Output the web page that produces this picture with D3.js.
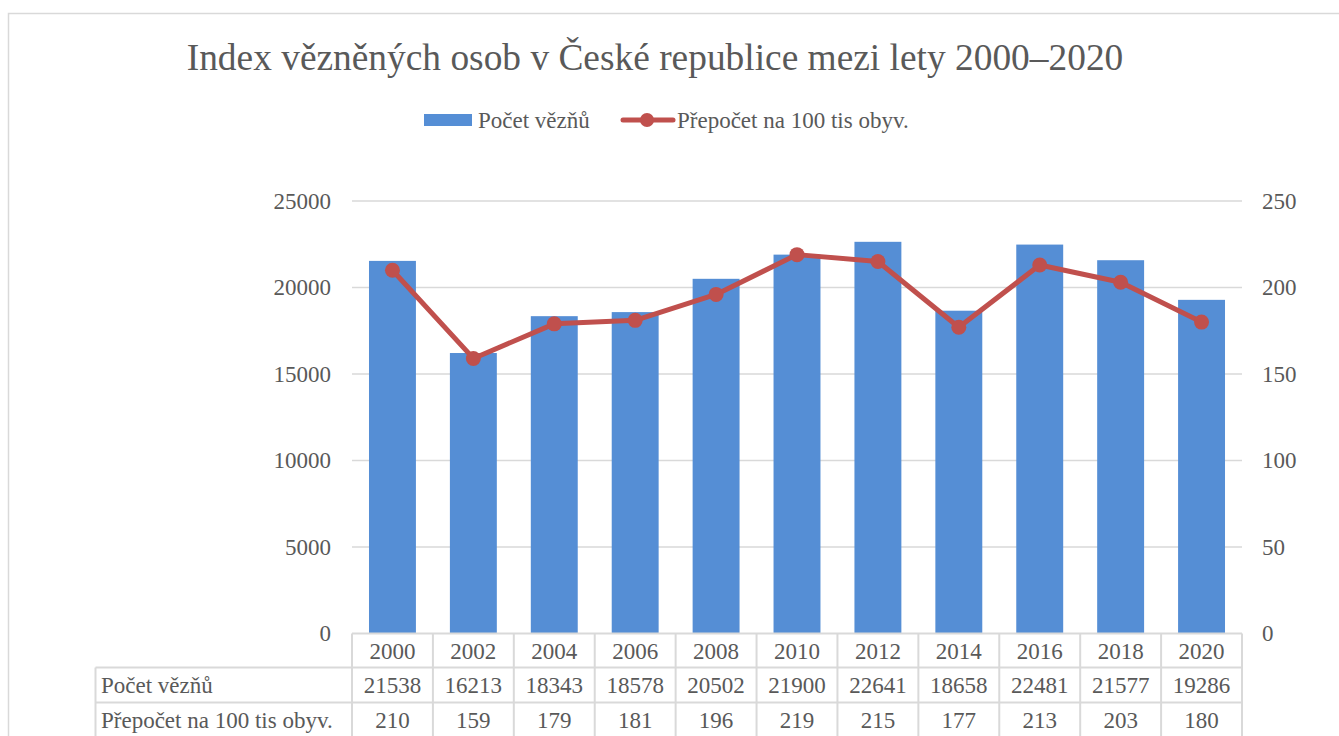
<!DOCTYPE html>
<html><head><meta charset="utf-8">
<script src="https://cdn.jsdelivr.net/npm/d3@7/dist/d3.min.js"></script>
<style>html,body{margin:0;padding:0;background:#fff;overflow:hidden}</style>
</head><body>
<script>
const years = ["2000","2002","2004","2006","2008","2010","2012","2014","2016","2018","2020"];
const prisoners = [21538,16213,18343,18578,20502,21900,22641,18658,22481,21577,19286];
const per100k = [210,159,179,181,196,219,215,177,213,203,180];
const leftTicks = [0,5000,10000,15000,20000,25000];
const rightTicks = [0,50,100,150,200,250];
const seriesNames = ["Počet vězňů","Přepočet na 100 tis obyv."];
const title = "Index vězněných osob v České republice mezi lety 2000–2020";

const W=1339,H=736;
const font="'Liberation Serif','Times New Roman',serif";
const txt="#595959", grid="#d9d9d9", blue="#558ED5", red="#C0504D";
const fs=23;
const svg=d3.select("body").append("svg").attr("width",W).attr("height",H);

svg.append("rect").attr("x",8.5).attr("y",13.5).attr("width",W+20).attr("height",H+20)
  .attr("fill","none").attr("stroke","#d9d9d9").attr("stroke-width",1.5);

const L=352,R=1242,T=201,B=633.5;
const x=d3.scaleBand().domain(years).range([L,R]).paddingInner(0.42).paddingOuter(0.21);
const xc=d3.scaleBand().domain(years).range([L,R]);
const y=d3.scaleLinear().domain([0,25000]).range([B,T]);
const y2=d3.scaleLinear().domain([0,250]).range([B,T]);

// title
svg.append("text").attr("x",655).attr("y",70).attr("text-anchor","middle")
  .attr("font-family",font).attr("font-size",37.4).attr("fill",txt).text(title);

// gridlines
svg.append("g").selectAll("line").data(leftTicks.slice(1)).join("line")
  .attr("x1",L).attr("x2",R).attr("y1",d=>y(d)).attr("y2",d=>y(d))
  .attr("stroke",grid).attr("stroke-width",1.3);

// axes
const la=svg.append("g").attr("transform",`translate(${L-21},0)`)
  .call(d3.axisLeft(y).tickValues(leftTicks).tickSize(0).tickPadding(0).tickFormat(d3.format("d")));
la.select(".domain").remove();
la.selectAll("text").attr("font-family",font).attr("font-size",fs).attr("fill",txt).attr("dy","0.32em");
const ra=svg.append("g").attr("transform",`translate(${R+20},0)`)
  .call(d3.axisRight(y2).tickValues(rightTicks).tickSize(0).tickPadding(0).tickFormat(d3.format("d")));
ra.select(".domain").remove();
ra.selectAll("text").attr("font-family",font).attr("font-size",fs).attr("fill",txt).attr("dy","0.32em");

// bars
svg.append("g").selectAll("rect").data(prisoners).join("rect")
  .attr("x",(d,i)=>x(years[i])).attr("width",x.bandwidth())
  .attr("y",d=>y(d)).attr("height",d=>B-y(d)).attr("fill",blue);

// line
const cx=i=>xc(years[i])+xc.bandwidth()/2;
svg.append("path").datum(per100k)
  .attr("d",d3.line().x((d,i)=>cx(i)).y(d=>y2(d)))
  .attr("fill","none").attr("stroke",red).attr("stroke-width",5).attr("stroke-linejoin","round");
svg.append("g").selectAll("circle").data(per100k).join("circle")
  .attr("cx",(d,i)=>cx(i)).attr("cy",d=>y2(d)).attr("r",7.5).attr("fill",red);

// legend
const lg=svg.append("g");
lg.append("rect").attr("x",424).attr("y",114).attr("width",48).attr("height",12).attr("fill",blue);
lg.append("text").attr("x",478).attr("y",128).attr("font-family",font).attr("font-size",fs).attr("fill",txt).text(seriesNames[0]);
lg.append("line").attr("x1",623).attr("x2",673).attr("y1",120).attr("y2",120).attr("stroke",red).attr("stroke-width",5).attr("stroke-linecap","round");
lg.append("circle").attr("cx",647).attr("cy",120).attr("r",7).attr("fill",red);
lg.append("text").attr("x",677).attr("y",128).attr("font-family",font).attr("font-size",fs).attr("fill",txt).text(seriesNames[1]);

// data table
const rows=[B,667.5,702.5,737.5];
const tl=95.5;
const tg=svg.append("g").attr("stroke",grid).attr("stroke-width",2).attr("fill","none");
tg.append("line").attr("x1",L).attr("x2",R).attr("y1",rows[0]).attr("y2",rows[0]);
tg.append("line").attr("x1",tl).attr("x2",R).attr("y1",rows[1]).attr("y2",rows[1]);
tg.append("line").attr("x1",tl).attr("x2",R).attr("y1",rows[2]).attr("y2",rows[2]);
tg.append("line").attr("x1",tl).attr("x2",tl).attr("y1",rows[1]).attr("y2",H+5);
tg.selectAll("line.v").data(years.concat(["end"])).join("line").attr("class","v")
  .attr("x1",(d,i)=>L+i*xc.bandwidth()).attr("x2",(d,i)=>L+i*xc.bandwidth())
  .attr("y1",rows[0]).attr("y2",H+5);

const tt=svg.append("g").attr("font-family",font).attr("font-size",fs).attr("fill",txt);
tt.selectAll("text.yr").data(years).join("text").attr("class","yr")
  .attr("x",(d,i)=>cx(i)).attr("y",(rows[0]+rows[1])/2).attr("dy","0.35em").attr("text-anchor","middle").text(d=>d);
tt.selectAll("text.p").data(prisoners).join("text").attr("class","p")
  .attr("x",(d,i)=>cx(i)).attr("y",(rows[1]+rows[2])/2).attr("dy","0.35em").attr("text-anchor","middle").text(d=>d);
tt.selectAll("text.r").data(per100k).join("text").attr("class","r")
  .attr("x",(d,i)=>cx(i)).attr("y",(rows[2]+rows[3])/2).attr("dy","0.35em").attr("text-anchor","middle").text(d=>d);
tt.append("text").attr("x",101).attr("y",(rows[1]+rows[2])/2).attr("dy","0.35em").text(seriesNames[0]);
tt.append("text").attr("x",101).attr("y",(rows[2]+rows[3])/2).attr("dy","0.35em").text(seriesNames[1]);
</script>
</body></html>
